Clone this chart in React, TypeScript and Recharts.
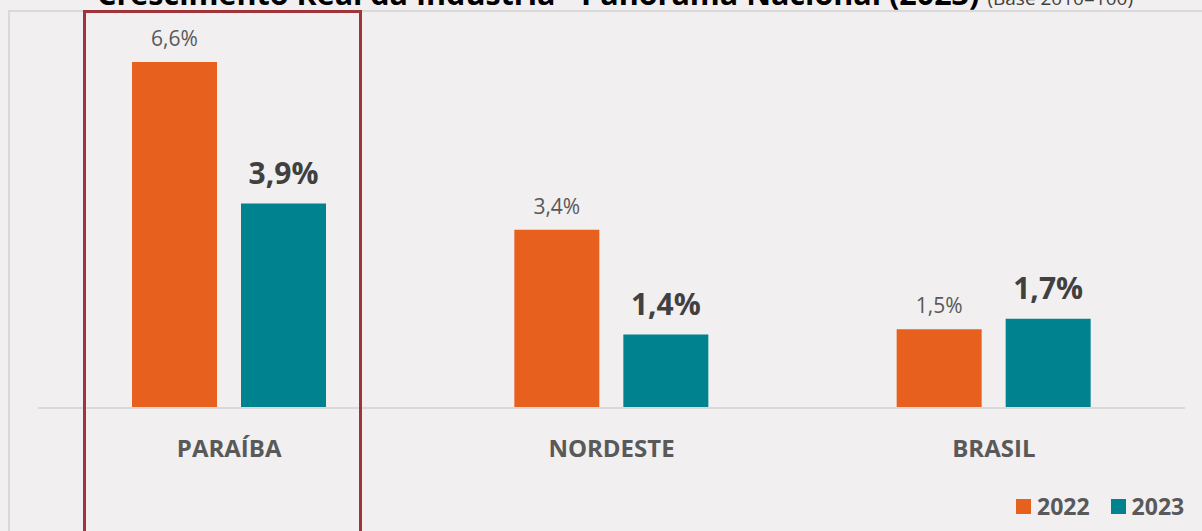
import React from "react";
import { BarChart, Bar, XAxis, YAxis, LabelList } from "recharts";

const categories = ["PARAÍBA", "NORDESTE", "BRASIL"];
const values2022 = [6.6, 3.4, 1.5];
const values2023 = [3.9, 1.4, 1.7];
const seriesNames = ["2022", "2023"];

const data = categories.map((c, i) => ({ name: c, v2022: values2022[i], v2023: values2023[i] }));

const ORANGE = "#E8601E";
const TEAL = "#00838F";
const BG = "#F1EFF0";
const FONT = "'Open Sans', 'Noto Sans', sans-serif";

const fmt = (v: number) => v.toFixed(1).replace(".", ",") + "%";

const Label2022 = (props: any) => {
  const { x, y, width, value } = props;
  return (
    <text x={x + width / 2} y={y - 16} textAnchor="middle" fontSize={21} fill="#595959" fontFamily={FONT}>
      {fmt(value)}
    </text>
  );
};

const Label2023 = (props: any) => {
  const { x, y, width, value } = props;
  return (
    <text x={x + width / 2} y={y - 20} textAnchor="middle" fontSize={30} fontWeight={700} fill="#404040" fontFamily={FONT}>
      {fmt(value)}
    </text>
  );
};

export default function App() {
  return (
    <div style={{ position: "fixed", left: 0, top: 0, width: 1202, height: 531, background: BG, overflow: "hidden" }}>
      <div style={{ position: "absolute", left: 8, top: 10, width: 1300, height: 600, borderLeft: "2px solid #D9D9D9", borderTop: "2px solid #D9D9D9" }} />
      <BarChart
        width={1202}
        height={531}
        data={data}
        margin={{ top: 41, right: 17, bottom: 93, left: 38 }}
        barCategoryGap={94}
        barGap={24}
        style={{ position: "absolute", left: 0, top: 0 }}
      >
        <text x={97} y={5} fontFamily={FONT} fill="#000">
          <tspan fontSize={30.5} fontWeight={700}>Crescimento Real da Indústria - Panorama Nacional (2023)</tspan>
          <tspan fontSize={19} fill="#404040" dx={8}>(Base 2010=100)</tspan>
        </text>
        <XAxis
          dataKey="name"
          axisLine={{ stroke: "#D9D9D9", strokeWidth: 2 }}
          tickLine={false}
          tick={{ fontSize: 24, fontWeight: 700, fill: "#595959", fontFamily: FONT }}
          dy={24}
        />
        <YAxis hide domain={[0, 7]} />
        <Bar dataKey="v2022" name={seriesNames[0]} fill={ORANGE} barSize={85} isAnimationActive={false}>
          <LabelList dataKey="v2022" content={<Label2022 />} />
        </Bar>
        <Bar dataKey="v2023" name={seriesNames[1]} fill={TEAL} barSize={85} isAnimationActive={false}>
          <LabelList dataKey="v2023" content={<Label2023 />} />
        </Bar>
      </BarChart>
      <div style={{ position: "absolute", left: 1016, top: 490, display: "flex", alignItems: "center", fontFamily: FONT, fontWeight: 700, fontSize: 23, color: "#595959", lineHeight: "32px" }}>
        <span style={{ width: 15, height: 15, background: ORANGE, display: "inline-block", marginRight: 6 }} />
        <span style={{ marginRight: 21 }}>{seriesNames[0]}</span>
        <span style={{ width: 15, height: 15, background: TEAL, display: "inline-block", marginRight: 6 }} />
        <span>{seriesNames[1]}</span>
      </div>
      <div style={{ position: "absolute", left: 83, top: 10, width: 273, height: 600, border: "3px solid #A0343A", pointerEvents: "none" }} />
    </div>
  );
}
